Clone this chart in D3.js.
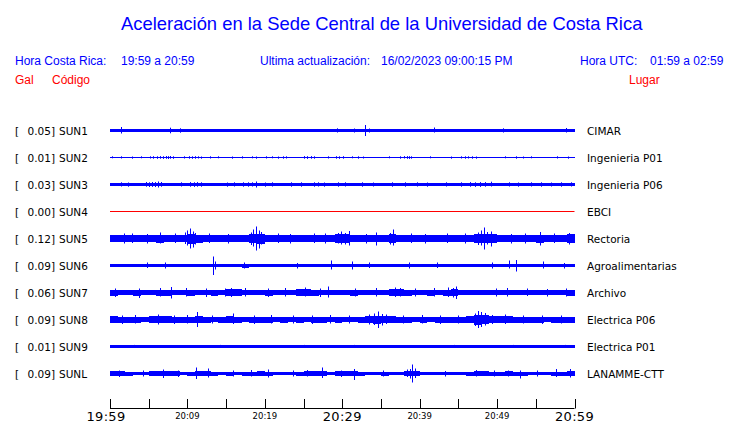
<!DOCTYPE html>
<html><head><meta charset="utf-8">
<script src="https://cdn.jsdelivr.net/npm/d3@7"></script>
<style>body{margin:0;background:#fff}svg{display:block}</style>
</head><body><svg id="c" width="740" height="423"></svg>
<script>
const titleText = "Aceleración en la Sede Central de la Universidad de Costa Rica";
const headerBlue = [["Hora Costa Rica:",15],["19:59 a 20:59",121],["Ultima actualización:",260],["16/02/2023 09:00:15 PM",381],["Hora UTC:",580],["01:59 a 02:59",650]];
const headerRed = [["Gal",15],["Código",52],["Lugar",629]];

const stations = ["SUN1","SUN2","SUN3","SUN4","SUN5","SUN6","SUN7","SUN8","SUN9","SUNL"];
const places = ["CIMAR","Ingenieria P01","Ingenieria P06","EBCI","Rectoria","Agroalimentarias","Archivo","Electrica P06","Electrica P01","LANAMME-CTT"];
const peaks = [0.05,0.01,0.03,0.00,0.12,0.09,0.06,0.09,0.01,0.09];
const traceColors = ["#0000ff","#0000ff","#0000ff","#ff0000","#0000ff","#0000ff","#0000ff","#0000ff","#0000ff","#0000ff"];

const tickMinutes = [0,5,10,15,20,25,30,35,40,45,50,55,60];
const tickLabels = {0:"19:59",10:"20:09",20:"20:19",30:"20:29",40:"20:39",50:"20:49",60:"20:59"};
const majorLabels = ["19:59","20:29","20:59"];

// per-minute envelope half-amplitudes (gal)
const env1 = [0.018,0.018,0.016,0.016,0.016,0.016,0.016,0.016,0.016,0.016,0.016,0.016,0.016,0.012,0.012,0.012,0.012,0.016,0.016,0.016,0.012,0.012,0.012,0.015,0.015,0.015,0.015,0.015,0.015,0.014,0.014,0.014,0.014,0.012,0.012,0.012,0.012,0.015,0.015,0.015,0.015,0.015,0.013,0.013,0.013,0.013,0.013,0.016,0.016,0.016,0.016,0.016,0.015,0.015,0.015,0.015,0.017,0.017,0.017,0.017];
const env2 = [0.003,0.003,0.003,0.003,0.003,0.005,0.006,0.007,0.005,0.003,0.006,0.005,0.003,0.003,0.003,0.003,0.003,0.003,0.003,0.003,0.003,0.003,0.005,0.003,0.003,0.006,0.005,0.003,0.003,0.006,0.005,0.003,0.003,0.003,0.003,0.003,0.003,0.003,0.006,0.004,0.003,0.003,0.003,0.003,0.003,0.005,0.005,0.005,0.003,0.003,0.003,0.003,0.003,0.003,0.003,0.003,0.003,0.003,0.003,0.003];
const env3 = [0.015,0.015,0.015,0.015,0.018,0.018,0.018,0.016,0.016,0.016,0.017,0.017,0.015,0.015,0.015,0.015,0.015,0.017,0.017,0.017,0.015,0.015,0.015,0.017,0.015,0.015,0.017,0.015,0.015,0.017,0.017,0.015,0.015,0.015,0.015,0.015,0.017,0.015,0.015,0.015,0.015,0.015,0.015,0.015,0.015,0.015,0.017,0.017,0.017,0.017,0.015,0.015,0.015,0.015,0.015,0.015,0.015,0.015,0.015,0.015];
const env4 = [0,0,0,0,0,0,0,0,0,0,0,0,0,0,0,0,0,0,0,0,0,0,0,0,0,0,0,0,0,0,0,0,0,0,0,0,0,0,0,0,0,0,0,0,0,0,0,0,0,0,0,0,0,0,0,0,0,0,0,0];
const env5 = [0.038,0.035,0.035,0.033,0.035,0.035,0.04,0.035,0.033,0.038,0.05,0.04,0.035,0.033,0.033,0.035,0.033,0.038,0.045,0.05,0.038,0.035,0.033,0.033,0.035,0.033,0.035,0.033,0.038,0.042,0.042,0.035,0.033,0.033,0.038,0.035,0.042,0.035,0.033,0.035,0.035,0.033,0.035,0.033,0.035,0.033,0.035,0.042,0.048,0.042,0.035,0.035,0.033,0.035,0.035,0.04,0.035,0.035,0.038,0.045];
const env6 = [0.018,0.019,0.018,0.016,0.016,0.018,0.016,0.018,0.016,0.016,0.016,0.018,0.016,0.019,0.018,0.016,0.019,0.02,0.016,0.016,0.016,0.016,0.016,0.016,0.018,0.019,0.016,0.018,0.019,0.016,0.018,0.019,0.016,0.016,0.016,0.019,0.016,0.016,0.019,0.018,0.016,0.016,0.018,0.016,0.018,0.016,0.016,0.018,0.019,0.018,0.019,0.019,0.019,0.016,0.016,0.018,0.016,0.016,0.016,0.019];
const env7 = [0.03,0.028,0.028,0.03,0.025,0.028,0.03,0.03,0.028,0.028,0.03,0.028,0.028,0.03,0.028,0.033,0.032,0.028,0.028,0.028,0.03,0.028,0.028,0.028,0.031,0.033,0.03,0.028,0.025,0.022,0.025,0.03,0.028,0.025,0.028,0.028,0.032,0.032,0.03,0.028,0.028,0.03,0.028,0.03,0.035,0.025,0.022,0.022,0.025,0.022,0.025,0.022,0.025,0.025,0.025,0.025,0.022,0.022,0.027,0.03];
const env8 = [0.033,0.03,0.03,0.03,0.028,0.032,0.035,0.033,0.03,0.03,0.03,0.033,0.03,0.028,0.03,0.033,0.03,0.028,0.03,0.03,0.03,0.028,0.03,0.028,0.03,0.028,0.03,0.03,0.028,0.03,0.028,0.028,0.03,0.036,0.04,0.036,0.033,0.03,0.03,0.028,0.03,0.028,0.03,0.03,0.03,0.03,0.033,0.05,0.047,0.033,0.033,0.033,0.03,0.03,0.03,0.03,0.028,0.03,0.03,0.03];
const env9 = [0.012,0.012,0.012,0.012,0.012,0.012,0.012,0.012,0.012,0.012,0.012,0.012,0.012,0.012,0.012,0.012,0.012,0.012,0.012,0.012,0.012,0.012,0.012,0.012,0.012,0.012,0.012,0.012,0.012,0.012,0.012,0.012,0.012,0.012,0.012,0.012,0.012,0.012,0.012,0.012,0.012,0.012,0.012,0.012,0.012,0.012,0.012,0.012,0.012,0.012,0.012,0.012,0.012,0.012,0.012,0.012,0.012,0.012,0.012,0.012];
const envL = [0.022,0.022,0.02,0.018,0.018,0.022,0.024,0.022,0.022,0.018,0.02,0.025,0.024,0.02,0.019,0.02,0.018,0.02,0.02,0.022,0.02,0.018,0.018,0.018,0.02,0.022,0.022,0.024,0.018,0.022,0.024,0.024,0.02,0.018,0.018,0.02,0.019,0.018,0.025,0.028,0.018,0.016,0.018,0.016,0.018,0.016,0.02,0.022,0.022,0.02,0.02,0.022,0.02,0.02,0.018,0.018,0.018,0.02,0.02,0.022];

// spikes: [minute, up, down] (gal)
const spk1 = [[1.4,0.035,0.03],[7.7,0.028,0.028],[9.1,0.022,0.022],[29.3,0.022,0.02],[31.5,0.02,0.02],[32.9,0.055,0.055],[33.5,0.02,0.02],[41.8,0.03,0.02],[50.8,0.022,0.02],[58.9,0.025,0.02]];
const spk2 = [[0.3,0.012,0.008],[1.4,0.012,0.01],[2.9,0.01,0.012],[4.0,0.012,0.008],[5.2,0.012,0.01],[5.6,0.013,0.012],[6.1,0.012,0.013],[6.5,0.014,0.012],[6.9,0.013,0.014],[7.2,0.015,0.013],[7.5,0.014,0.015],[7.8,0.015,0.012],[8.2,0.012,0.013],[9.5,0.012,0.01],[10.2,0.013,0.012],[10.6,0.012,0.013],[11.0,0.013,0.012],[11.4,0.012,0.01],[11.8,0.01,0.012],[12.9,0.012,0.01],[14.0,0.012,0.008],[15.7,0.01,0.012],[17.0,0.012,0.01],[18.3,0.012,0.008],[18.9,0.01,0.012],[20.2,0.012,0.01],[20.9,0.012,0.008],[21.7,0.01,0.012],[22.3,0.012,0.012],[22.7,0.012,0.01],[25.1,0.014,0.012],[25.5,0.013,0.014],[25.9,0.014,0.012],[26.3,0.012,0.012],[28.2,0.012,0.01],[29.2,0.013,0.012],[29.6,0.012,0.013],[30.1,0.013,0.012],[31.2,0.012,0.008],[32.0,0.012,0.012],[32.7,0.01,0.01],[36.1,0.012,0.008],[37.5,0.012,0.012],[38.0,0.014,0.01],[38.3,0.014,0.013],[38.6,0.013,0.014],[38.9,0.012,0.012],[41.3,0.012,0.008],[44.1,0.01,0.012],[45.4,0.012,0.01],[45.8,0.012,0.012],[46.3,0.012,0.01],[46.8,0.012,0.012],[47.3,0.01,0.012],[51.0,0.012,0.008],[52.5,0.012,0.012],[53.3,0.01,0.01],[54.4,0.012,0.008],[57.8,0.012,0.01],[59.1,0.01,0.012]];
const spk3 = [[6.2,0.03,0.03],[18.9,0.03,0.03],[49.2,0.028,0.02],[4.6,0.025,0.022],[5.0,0.022,0.025],[5.4,0.025,0.024],[5.8,0.024,0.025],[6.6,0.025,0.022],[10.3,0.024,0.022],[10.8,0.022,0.024],[11.3,0.024,0.022],[46.5,0.024,0.022],[47.2,0.022,0.024],[47.8,0.024,0.024],[48.5,0.024,0.022],[1.4,0.022,0.02],[2.3,0.02,0.022],[9.2,0.022,0.02],[11.8,0.022,0.022],[15.1,0.02,0.022],[16,0.022,0.02],[17.2,0.022,0.022],[17.8,0.022,0.022],[18.4,0.022,0.02],[20,0.02,0.022],[20.9,0.022,0.02],[23.4,0.022,0.022],[24.7,0.022,0.022],[26.4,0.022,0.022],[26.9,0.022,0.02],[27.7,0.02,0.022],[29.5,0.022,0.022],[30.3,0.022,0.02],[32.5,0.022,0.022],[34,0.02,0.02],[36.4,0.022,0.022],[38.1,0.022,0.022],[39.6,0.022,0.02],[40.9,0.02,0.022],[43.4,0.022,0.02],[45.4,0.022,0.022],[51.6,0.022,0.02],[52.7,0.02,0.022],[54.4,0.022,0.02],[55.7,0.022,0.022],[57,0.02,0.02],[58.3,0.022,0.022],[59.6,0.022,0.02]];
const spk4 = [];
const spk5 = [[10.3,0.1,0.1],[10.0,0.08,0.07],[10.7,0.07,0.09],[9.7,0.06,0.055],[11.0,0.055,0.06],[18.8,0.12,0.12],[18.5,0.09,0.08],[19.2,0.08,0.1],[18.2,0.06,0.065],[19.5,0.065,0.06],[6.4,0.06,0.05],[29.8,0.07,0.06],[29.4,0.055,0.05],[30.4,0.055,0.06],[30.9,0.075,0.07],[34.4,0.06,0.07],[36.5,0.09,0.07],[36.2,0.055,0.06],[48.3,0.11,0.11],[47.9,0.08,0.07],[47.5,0.06,0.065],[48.7,0.065,0.06],[49.2,0.07,0.08],[55.5,0.065,0.07],[59.3,0.055,0.06],[1.8,0.05,0.05],[2.9,0.05,0.045],[4.8,0.045,0.05],[8.4,0.05,0.045],[12.8,0.05,0.045],[15.3,0.045,0.05],[21.7,0.05,0.045],[23.2,0.045,0.05],[26.3,0.05,0.045],[27.8,0.05,0.05],[33.1,0.045,0.05],[38.9,0.05,0.045],[40.7,0.045,0.05],[43.5,0.05,0.045],[45.9,0.05,0.05],[51.8,0.045,0.05],[53.6,0.05,0.05],[57.4,0.05,0.045]];
const spk6 = [[13.3,0.09,0.095],[13.5,0.04,0.04],[28.5,0.05,0.04],[31.2,0.04,0.04],[51.5,0.05,0.03],[52.5,0.055,0.06],[55.9,0.04,0.03],[4.8,0.03,0.025],[7.1,0.03,0.03],[17.3,0.03,0.03],[24.1,0.025,0.03],[33.5,0.03,0.025],[38.6,0.03,0.03],[42.2,0.03,0.025],[49.3,0.03,0.03],[58.6,0.025,0.03]];
const spk7 = [[7.9,0.055,0.06],[28.2,0.06,0.05],[44.7,0.06,0.065],[44.3,0.045,0.05],[3.8,0.04,0.055],[0.7,0.04,0.045],[6.5,0.045,0.04],[9.8,0.045,0.04],[12.4,0.04,0.045],[14.8,0.04,0.04],[15.6,0.045,0.045],[17.5,0.045,0.04],[20.4,0.04,0.045],[22.6,0.045,0.04],[25.2,0.05,0.04],[27.1,0.04,0.045],[31.7,0.04,0.04],[34.3,0.045,0.04],[36.8,0.05,0.045],[37.4,0.045,0.04],[39.4,0.04,0.04],[41.8,0.045,0.04],[43.6,0.05,0.045],[49.8,0.04,0.04],[51.3,0.045,0.04],[53.8,0.04,0.035],[56.4,0.035,0.04],[58.9,0.04,0.04]];
const spk8 = [[11.3,0.075,0.075],[34.6,0.08,0.085],[34.1,0.06,0.055],[35.1,0.055,0.06],[47.5,0.085,0.085],[47.9,0.075,0.075],[47.1,0.06,0.065],[48.4,0.065,0.06],[15.9,0.06,0.045],[6.2,0.05,0.05],[51,0.05,0.045],[1.5,0.04,0.045],[3.2,0.045,0.04],[8.3,0.04,0.045],[9.9,0.045,0.04],[13.2,0.04,0.04],[18.6,0.04,0.045],[20.8,0.045,0.04],[23.7,0.04,0.04],[26.1,0.04,0.045],[28.4,0.045,0.04],[30.9,0.04,0.04],[33.5,0.05,0.05],[35.7,0.05,0.045],[37.8,0.04,0.04],[40.3,0.045,0.04],[42.6,0.04,0.045],[44.9,0.04,0.04],[49.3,0.045,0.045],[53.4,0.04,0.04],[55.8,0.04,0.045],[58.2,0.04,0.04]];
const spk9 = [[3.1,0.016,0.01],[10,0.015,0.012],[14.2,0.016,0.012],[18.5,0.015,0.012],[25,0.016,0.012],[31.5,0.016,0.012],[37,0.015,0.012],[44.4,0.016,0.012],[52,0.016,0.012],[58.8,0.016,0.012]];
const spkL = [[39,0.09,0.09],[38.7,0.045,0.05],[39.4,0.05,0.045],[11.1,0.06,0.055],[27.4,0.06,0.045],[31.5,0.045,0.065],[12.7,0.05,0.04],[6.8,0.04,0.045],[20.4,0.04,0.04],[53,0.03,0.05],[57.6,0.045,0.035],[59.4,0.045,0.04],[47.3,0.035,0.03],[1.1,0.03,0.035],[4.3,0.03,0.03],[8.8,0.03,0.035],[15.9,0.03,0.03],[18.2,0.035,0.03],[23.6,0.03,0.03],[25.4,0.035,0.03],[29.8,0.03,0.035],[35.2,0.03,0.03],[38.4,0.04,0.035],[43.3,0.025,0.03],[49.6,0.03,0.03],[51.4,0.03,0.03],[55.2,0.03,0.03]];

const envelopes = [env1,env2,env3,env4,env5,env6,env7,env8,env9,envL];
const spikes = [spk1,spk2,spk3,spk4,spk5,spk6,spk7,spk8,spk9,spkL];

const svg = d3.select("#c");
const t0 = new Date(2023,1,16,19,59);
const minute = m => new Date(t0.getTime() + m*60000);
const x = d3.scaleTime().domain([t0, minute(60)]).range([110, 574.5]);
const row = d3.scaleLinear().domain([0, 9]).range([130.5, 373.5]);
const amp = d3.scaleLinear().domain([0, 1]).range([0, 100]);

// header
svg.append("text").attr("x",121).attr("y",29.5).attr("fill","#0000ff")
  .attr("font-family","'Liberation Sans', Arial, sans-serif").attr("font-size",18.4).text(titleText);
svg.selectAll("text.hb").data(headerBlue).join("text").attr("class","hb")
  .attr("x",d=>d[1]).attr("y",64.5).attr("fill","#0000ff")
  .attr("font-family","'Liberation Sans', Arial, sans-serif").attr("font-size",12).text(d=>d[0]);
svg.selectAll("text.hr").data(headerRed).join("text").attr("class","hr")
  .attr("x",d=>d[1]).attr("y",84).attr("fill","#ff0000")
  .attr("font-family","'Liberation Sans', Arial, sans-serif").attr("font-size",12).text(d=>d[0]);

// traces
const g = svg.append("g");
stations.forEach((s,i)=>{
  const c = row(i);
  const col = traceColors[i];
  const e = envelopes[i].map((v,k)=>({m:k,v}));
  e.push({m:60, v:envelopes[i][59]});
  const area = d3.area().curve(d3.curveStepAfter)
    .x(d=>x(minute(d.m))).y0(d=>c+amp(d.v)).y1(d=>c-amp(d.v));
  g.append("path").attr("d",area(e)).attr("fill",col).attr("shape-rendering","crispEdges");
  g.append("line").attr("x1",x(minute(0))).attr("x2",x(minute(60)))
    .attr("y1",c).attr("y2",c).attr("stroke",col).attr("stroke-width",1);
  g.selectAll(null).data(spikes[i]).join("line")
    .attr("x1",d=>Math.round(x(minute(d[0])))+0.5).attr("x2",d=>Math.round(x(minute(d[0])))+0.5)
    .attr("y1",d=>c-amp(d[1])).attr("y2",d=>c+amp(d[2]))
    .attr("stroke",col).attr("stroke-width",1);
  const lf = "'DejaVu Sans', sans-serif";
  g.append("text").attr("x",15).attr("y",c+4).attr("font-family",lf).attr("font-size",10.5).text("[");
  g.append("text").attr("x",55).attr("y",c+4).attr("text-anchor","end").attr("font-family",lf).attr("font-size",10.5).text(peaks[i].toFixed(2)+"]");
  g.append("text").attr("x",59).attr("y",c+4).attr("font-family",lf).attr("font-size",10.5).text(s);
  g.append("text").attr("x",587).attr("y",c+4).attr("font-family",lf).attr("font-size",10.5).text(places[i]);
});

// time axis
const ax = svg.append("g");
ax.append("line").attr("x1",x(minute(0))).attr("x2",x(minute(60))).attr("y1",408.5).attr("y2",408.5).attr("stroke","#000");
ax.selectAll("line.tk").data(tickMinutes).join("line").attr("class","tk")
  .attr("x1",d=>Math.round(x(minute(d)))+0.5).attr("x2",d=>Math.round(x(minute(d)))+0.5)
  .attr("y1",399).attr("y2",408.5).attr("stroke","#000");
ax.selectAll("text.tl").data(tickMinutes.filter(m=>tickLabels[m])).join("text").attr("class","tl")
  .attr("x",d=>x(minute(d)) + (d===0?-4:0)).attr("y",d=>majorLabels.includes(tickLabels[d])?420.5:418.5)
  .attr("text-anchor","middle").attr("font-family","'DejaVu Sans', sans-serif")
  .attr("font-size",d=>majorLabels.includes(tickLabels[d])?13:8.5)
  .attr("letter-spacing",d=>majorLabels.includes(tickLabels[d])?0.3:0)
  .text(d=>tickLabels[d]);
</script></body></html>
